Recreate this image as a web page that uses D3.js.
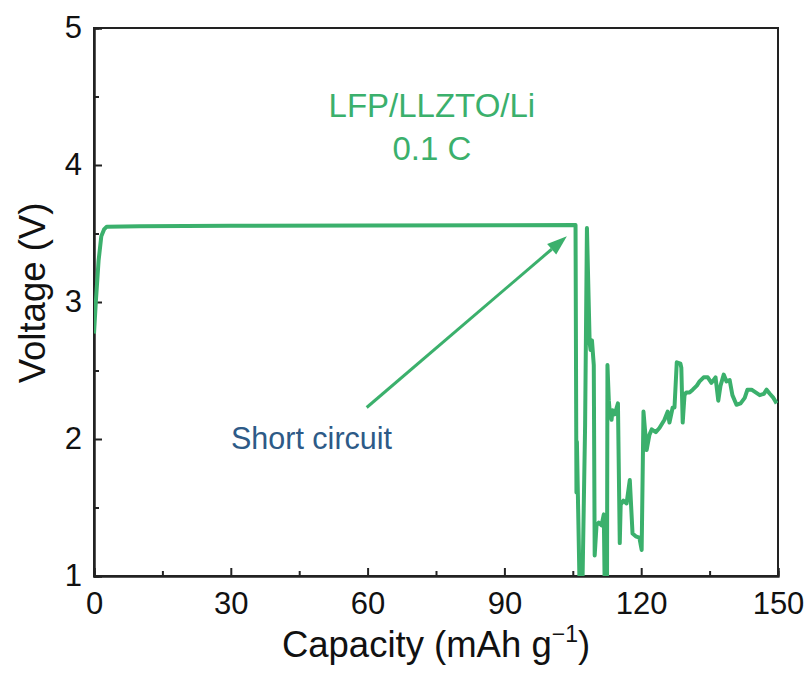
<!DOCTYPE html>
<head>
  <meta charset="utf-8">
  <script src="https://d3js.org/d3.v7.min.js"></script>
  <style>
    body { margin:0; background:#fff; }
    text { font-family: "Liberation Sans", Arial, sans-serif; }
  </style>
</head>
<body>
  <svg id="chart" width=811 height=673></svg>
  <script>
    // capacity (mAh/g) and voltage (V)
    const capacity = [
      0, 0.4, 1.0, 1.6, 2.2, 2.8, 10, 30, 60, 90,
      105.6, 105.8, 105.9, 106.5, 107.1, 107.7, 108.1, 108.7, 108.9, 109.2,
      109.6, 109.8, 110.2, 110.7, 111.3, 111.8, 112.0, 112.5, 112.6, 112.9,
      113.1, 113.5, 113.7, 114.2, 114.9, 115.3, 115.5, 116.1, 116.8, 117.5,
      118.1, 118.8, 119.6, 120.1, 120.5, 121.2, 121.8, 122.3, 123.2, 124.0,
      125.1, 125.8, 126.2, 126.9, 127.3, 127.8, 128.6, 128.8, 129.1, 129.5,
      129.9, 130.6, 131.3, 132.2, 132.8, 133.7, 134.6, 135.4, 136.3, 136.9,
      137.4, 138.1, 138.7, 139.4, 140.0, 140.9, 141.8, 142.7, 143.3, 144.2,
      145.1, 146.0, 146.9, 147.5, 148.2, 149.0, 149.7
    ];
    const voltage = [
      2.77, 3.0, 3.3, 3.48, 3.53, 3.55, 3.553, 3.556, 3.558, 3.56,
      3.562, 1.61, 1.98, 0.9, 0.9, 2.10, 3.54, 2.70, 2.65, 2.72,
      2.54, 1.15, 1.37, 1.39, 1.37, 1.45, 0.9, 0.9, 2.54, 2.28,
      2.20, 2.14, 2.21, 2.18, 2.26, 1.24, 1.52, 1.55, 1.53, 1.70,
      1.31, 1.29, 1.28, 1.19, 2.20, 1.92, 2.03, 2.07, 2.05, 2.08,
      2.14, 2.20, 2.12, 2.23, 2.23, 2.56, 2.55, 2.52, 2.12, 2.32,
      2.34, 2.34, 2.36, 2.39, 2.42, 2.45, 2.45, 2.41, 2.45, 2.28,
      2.39, 2.47, 2.42, 2.43, 2.32, 2.25, 2.26, 2.30, 2.36, 2.36,
      2.34, 2.32, 2.33, 2.36, 2.33, 2.30, 2.26
    ];
    const xTicks = [0, 30, 60, 90, 120, 150];
    const xMinor = [15, 45, 75, 105, 135];
    const yTicks = [1, 2, 3, 4, 5];
    const yMinor = [1.5, 2.5, 3.5, 4.5];
    const cellLines = ["LFP/LLZTO/Li", "0.1 C"];
    const arrowText = "Short circuit";
    const arrowFrom = [59.8, 2.23];
    const arrowTo = [103.7, 3.48];

    const green = "#3bb06c";
    const margin = {top: 28, right: 33, bottom: 97, left: 94};
    const W = 811, H = 673;
    const w = W - margin.left - margin.right, h = H - margin.top - margin.bottom;

    const svg = d3.select("#chart");
    const g = svg.append("g").attr("transform", `translate(${margin.left},${margin.top})`);

    const x = d3.scaleLinear().domain([0, 150]).range([0, w]);
    const y = d3.scaleLinear().domain([1, 5]).range([h, 0]);

    g.append("clipPath").attr("id", "clip")
      .append("rect").attr("width", w).attr("height", h);

    // frame
    g.append("rect").attr("width", w).attr("height", h)
      .attr("fill", "none").attr("stroke", "#222").attr("stroke-width", 2);

    g.append("g").attr("transform", `translate(0,${h})`)
      .call(d3.axisBottom(x).tickValues(xTicks).tickSize(-8).tickPadding(16).tickFormat(d3.format("d")));
    g.append("g").attr("transform", `translate(0,${h})`)
      .call(d3.axisBottom(x).tickValues(xMinor).tickSize(-5).tickFormat(""));
    g.append("g")
      .call(d3.axisLeft(y).tickValues(yTicks).tickSize(-8).tickPadding(12).tickFormat(d3.format("d")));
    g.append("g")
      .call(d3.axisLeft(y).tickValues(yMinor).tickSize(-5).tickFormat(""));

    g.selectAll(".domain").attr("stroke", "#222").attr("stroke-width", 2);
    g.selectAll(".tick line").attr("stroke", "#222").attr("stroke-width", 2);
    g.selectAll(".tick text").attr("font-size", 31).attr("fill", "#111")
      .attr("font-family", "Liberation Sans, Arial, sans-serif");

    // curve
    const line = d3.line().x((d, i) => x(capacity[i])).y(d => y(d));
    g.append("path").datum(voltage)
      .attr("clip-path", "url(#clip)")
      .attr("d", line)
      .attr("fill", "none")
      .attr("stroke", green)
      .attr("stroke-width", 4)
      .attr("stroke-linejoin", "round");

    // axis titles
    const xt = svg.append("text")
      .attr("x", margin.left + w / 2).attr("y", 657)
      .attr("text-anchor", "middle").attr("font-size", 36.5).attr("fill", "#111");
    xt.append("tspan").text("Capacity (mAh g");
    xt.append("tspan").text("\u22121").attr("font-size", 23).attr("dy", -15);
    xt.append("tspan").text(")").attr("dy", 15);

    svg.append("text")
      .attr("transform", `translate(45,${margin.top + h / 2 - 9}) rotate(-90)`)
      .attr("text-anchor", "middle").attr("font-size", 36.5).attr("fill", "#111")
      .text("Voltage (V)");

    // annotations
    g.selectAll(".cell").data(cellLines).join("text")
      .attr("x", x(74.1)).attr("y", (d, i) => y(4.365) + 2 + i * 43)
      .attr("text-anchor", "middle").attr("font-size", 33).attr("fill", green)
      .text(d => d);

    g.append("text")
      .attr("x", x(47.7)).attr("y", y(1.93))
      .attr("text-anchor", "middle").attr("font-size", 30.5).attr("fill", "#2d5a87")
      .text(arrowText);

    const x0 = x(arrowFrom[0]), y0 = y(arrowFrom[1]);
    const x1 = x(arrowTo[0]), y1 = y(arrowTo[1]);
    const ang = Math.atan2(y1 - y0, x1 - x0);
    const hl = 20, hw = 7;
    const bx = x1 - hl * Math.cos(ang), by = y1 - hl * Math.sin(ang);
    g.append("line")
      .attr("x1", x0).attr("y1", y0).attr("x2", bx).attr("y2", by)
      .attr("stroke", green).attr("stroke-width", 3);
    g.append("path")
      .attr("d", `M${x1},${y1}L${bx + hw * Math.sin(ang)},${by - hw * Math.cos(ang)}L${bx - hw * Math.sin(ang)},${by + hw * Math.cos(ang)}Z`)
      .attr("fill", green);
  </script>
</body>
